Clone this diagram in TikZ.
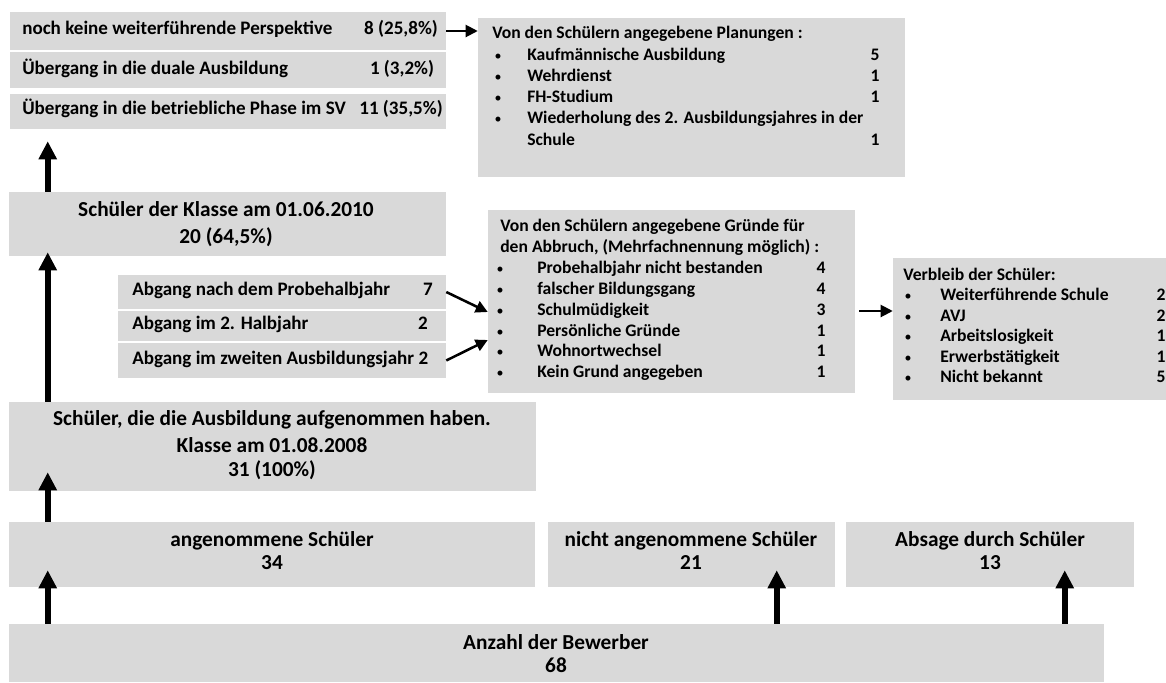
\documentclass[tikz,border=0pt]{standalone}
\usepackage{fontspec}
\setmainfont{Carlito}
\usetikzlibrary{positioning,arrows.meta,fit}
\definecolor{boxGray}{HTML}{D9D9D9}
\def\pxu{0.75pt}

\begin{document}
\begin{tikzpicture}[
  x=0.75pt, y=-0.75pt,
  gbox/.style={fill=boxGray, inner sep=0pt},
  rowtxt/.style={font=\fontsize{14.3}{17}\selectfont\bfseries, inner sep=0pt, text height=1.6ex, text depth=0.4ex},
  lst/.style={font=\fontsize{13.2}{16}\selectfont\bfseries, inner sep=0pt, text height=1.6ex, text depth=0.4ex},
  big/.style={font=\fontsize{16}{19}\selectfont\bfseries, inner sep=0pt, text height=1.5ex, text depth=0.4ex},
  upar/.style={-{Triangle[length=13.5pt,width=13pt]}, line width=4.2pt},
  thinarr/.style={-{Triangle[length=9pt,width=9pt]}, line width=1.5pt},
]
\useasboundingbox (0,0) rectangle (1166,682);

% ---------- one line of a bullet list (uses \bx \tx \nx) ----------
\newcommand{\lrow}[4]{% name y text num
  \node[lst, font=\fontsize{10.5}{10}\selectfont] (#1b) at (\bx,#2) {\textbullet};
  \node[lst, anchor=west] (#1t) at (\tx,#2) {#3};
  \node[lst] (#1n) at (\nx,#2) {#4};}

% =====================================================================
% BOTTOM : Bewerber
% =====================================================================
\node[gbox, fit={(9,624) (1104,682)}] (anzahl) {};
\node[big] (anzahl1) at (556,646) {Anzahl der Bewerber};
\node[big] (anzahl2) at (556,669) {68};
\node[gbox, fit={(9,522) (535,587)}] (ang) {};
\node[big] (ang1) at (272,543) {angenommene Schüler};
\node[big] (ang2) at (272,566) {34};
\node[gbox, fit={(548,522) (835,587)}] (nang) {};
\node[big] (nang1) at (691,543) {nicht angenommene Schüler};
\node[big] (nang2) at (691,566) {21};
\node[gbox, fit={(846,522) (1134,587)}] (absage) {};
\node[big] (absage1) at (990,543) {Absage durch Schüler};
\node[big] (absage2) at (990,566) {13};

\draw[upar] ([xshift=39*\pxu]anzahl.north west) -- ([xshift=39*\pxu,yshift=17*\pxu]ang.south west);
\draw[upar] ([xshift=768*\pxu]anzahl.north west) -- ([xshift=229*\pxu,yshift=17*\pxu]nang.south west);
\draw[upar] ([xshift=1056*\pxu]anzahl.north west) -- ([xshift=219*\pxu,yshift=17*\pxu]absage.south west);

% =====================================================================
% KLASSE 2008 / 2010
% =====================================================================
\node[gbox, fit={(9,402) (536,491)}] (start) {};
\node[big] (start1) at (272,422) {Schüler, die die Ausbildung aufgenommen haben.};
\node[big] (start2) at (272,449) {Klasse am 01.08.2008};
\node[big] (start3) at (272,473) {31 (100\%)};
\draw[upar] ([xshift=39*\pxu]ang.north west) -- ([xshift=39*\pxu,yshift=19*\pxu]start.south west);

\node[gbox, fit={(9,192) (446,256)}] (ende) {};
\node[big] (ende1) at (226,213) {Schüler der Klasse am 01.06.2010};
\node[big] (ende2) at (226,240) {20 (64,5\%)};
\draw[upar] ([xshift=39*\pxu]start.north west) -- ([xshift=39*\pxu,yshift=4*\pxu]ende.south west);

% =====================================================================
% ABGAENGE
% =====================================================================
\node[gbox, fit={(118,275) (446,309)}] (ab1) {};
\node[gbox, fit={(118,311) (446,341)}] (ab2) {};
\node[gbox, fit={(118,343) (446,378)}] (ab3) {};
\node[rowtxt, anchor=west] (ab1t) at (132,292) {Abgang nach dem Probehalbjahr};
\node[rowtxt] (ab1n) at (428,292) {7};
\node[rowtxt, anchor=west] (ab2t) at (132,326) {Abgang im 2. Halbjahr};
\node[rowtxt] (ab2n) at (423,326) {2};
\node[rowtxt, anchor=west] (ab3t) at (132,361) {Abgang im zweiten Ausbildungsjahr 2};

% Gruende
\node[gbox, fit={(488,210) (855,393)}] (gruende) {};
\node[lst, anchor=west] (gr0) at (500,228) {Von den Schülern angegebene Gründe für};
\node[lst, anchor=west] (gr00) at (500,249) {den Abbruch, (Mehrfachnennung möglich) :};
\def\bx{500}\def\tx{537}\def\nx{821}
\lrow{gra}{270}{Probehalbjahr nicht bestanden}{4}
\lrow{grb}{291}{falscher Bildungsgang}{4}
\lrow{grc}{312}{Schulmüdigkeit}{3}
\lrow{grd}{333}{Persönliche Gründe}{1}
\lrow{gre}{353}{Wohnortwechsel}{1}
\lrow{grf}{374}{Kein Grund angegeben}{1}

\draw[thinarr, line width=1.9pt] (ab1.east) -- ([yshift=-10.5*\pxu]gruende.west);
\draw[thinarr, line width=1.9pt] (ab3.east) -- ([yshift=-38.5*\pxu]gruende.west);

% Verbleib
\node[gbox, fit={(893,258) (1175,400)}] (verb) {};
\node[lst, anchor=west] (vb0) at (903,277) {Verbleib der Schüler:};
\def\bx{908}\def\tx{940}\def\nx{1161}
\lrow{vba}{297}{Weiterführende Schule}{2}
\lrow{vbb}{318}{AVJ}{2}
\lrow{vbc}{338}{Arbeitslosigkeit}{1}
\lrow{vbd}{359}{Erwerbstätigkeit}{1}
\lrow{vbe}{379}{Nicht bekannt}{5}

\draw[thinarr] ([xshift=4*\pxu,yshift=-9.5*\pxu]gruende.east) -- ([yshift=18*\pxu]verb.west);

% =====================================================================
% TOP : nach dem SV
% =====================================================================
\node[gbox, fit={(10,12) (446,50)}] (keine) {};
\node[gbox, fit={(10,52) (446,88)}] (dual) {};
\node[gbox, fit={(10,94) (446,129)}] (sv) {};
\node[rowtxt, anchor=west] (keinet) at (22,31) {noch keine weiterführende Perspektive};
\node[rowtxt] (keinen) at (401,31) {8 (25,8\%)};
\node[rowtxt, anchor=west] (dualt) at (22,71) {Übergang in die duale Ausbildung};
\node[rowtxt] (dualn) at (402,71) {1 (3,2\%)};
\node[rowtxt, anchor=west] (svt) at (22,111) {Übergang in die betriebliche Phase im SV};
\node[rowtxt] (svn) at (401,111) {11 (35,5\%)};

\draw[upar] ([xshift=39*\pxu]ende.north west) -- ([xshift=38*\pxu,yshift=-12*\pxu]sv.south west);

% Planungen
\node[gbox, fit={(478,18) (905,177)}] (plan) {};
\draw[thinarr] (keine.east) -- (plan.west |- keine.east);
\node[lst, anchor=west] (pl0) at (492,35) {Von den Schülern angegebene Planungen :};
\def\bx{498}\def\tx{527}\def\nx{875}
\lrow{pla}{57}{Kaufmännische Ausbildung}{5}
\lrow{plb}{78}{Wehrdienst}{1}
\lrow{plc}{99}{FH-Studium}{1}
\lrow{pld}{120}{Wiederholung des 2. Ausbildungsjahres in der}{}
\node[lst, anchor=west] (ple) at (\tx,142) {Schule};
\node[lst] (plen) at (\nx,142) {1};

\end{tikzpicture}
\end{document}
